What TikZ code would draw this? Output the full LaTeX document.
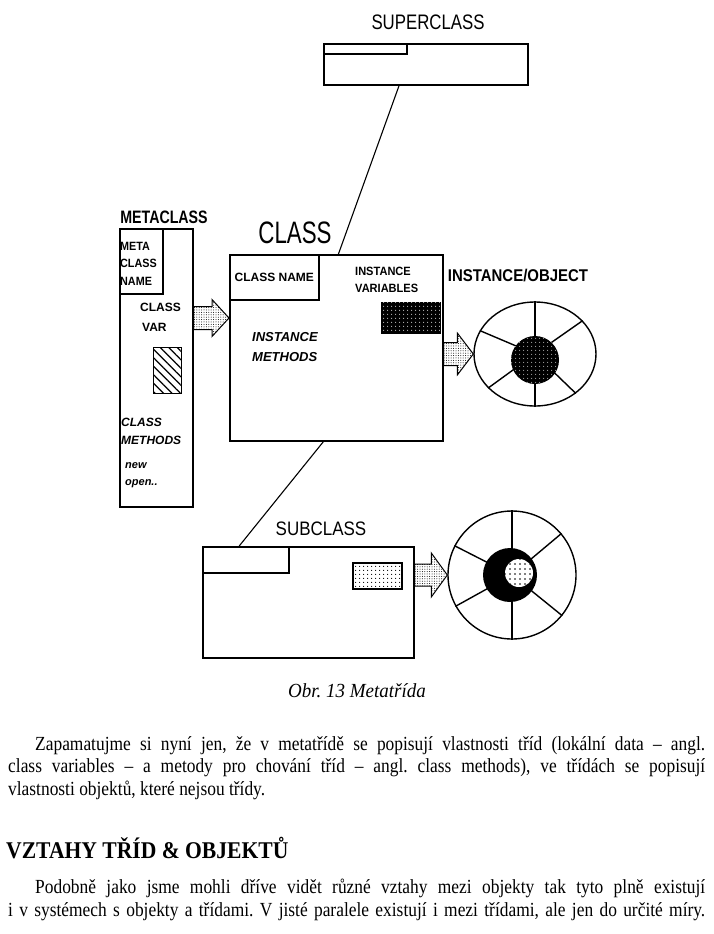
\documentclass[tikz,border=0pt]{standalone}
\usepackage{fontspec}
\setmainfont{Liberation Serif}[FakeStretch=0.87]
\newfontfamily\headfont{Liberation Serif}[FakeStretch=0.9]
\newfontfamily\capfont{Liberation Serif}[FakeStretch=0.95]
\newfontfamily\pixfont{Liberation Sans}
\usetikzlibrary{calc,patterns.meta,shapes.geometric}
\frenchspacing

\newcommand{\sx}[2]{\scalebox{#1}[1]{#2}}
% block arrow from #1 to #2: shaft half, head half, head length
\newcommand{\blockarrow}[5]{%
  \draw[blkarrow] let \p1=(#1), \p2=(#2) in
    (\x1,\y1+#3) -- (\x2-#5,\y1+#3) -- (\x2-#5,\y1+#4) -- (\x2,\y1)
    -- (\x2-#5,\y1-#4) -- (\x2-#5,\y1-#3) -- (\x1,\y1-#3) -- cycle;}

\tikzset{
  box/.style={draw, line width=1.6pt, inner sep=0pt, anchor=north west},
  link/.style={line width=1.1pt},
  wheel/.style={draw, line width=1.4pt, inner sep=0pt},
  spoke/.style={line width=1.4pt},
  lbl/.style={font=\pixfont\fontsize{21}{24}\selectfont, inner sep=0pt},
  pix/.style={font=\pixfont\bfseries\fontsize{12}{18}\selectfont, inner sep=0pt, align=left},
  pixit/.style={font=\pixfont\bfseries\itshape\fontsize{12}{18}\selectfont, inner sep=0pt, align=left},
  blkarrow/.style={line width=1pt, pattern={Dots[distance=2.4pt,radius=0.5pt]}},
  body/.style={font=\fontsize{20}{22.5}\selectfont, text width=697pt, align=justify, inner sep=0pt}
}

\begin{document}
\begin{tikzpicture}[x=1pt,y=-1pt]
  \useasboundingbox (0,0) rectangle (713,934);

  % class boxes
  \node[box, minimum width=204, minimum height=41] (sup) at (323,43) {};
  \node[box, minimum width=73, minimum height=278] (meta) at (119,228) {};
  \node[box, minimum width=213, minimum height=186] (cls) at (229,254) {};
  \node[box, minimum width=211, minimum height=111] (sub) at (202,546) {};

  % name tabs
  \node[box, minimum width=83, minimum height=10] (suptab) at (sup.north west) {};
  \node[box, minimum width=43, minimum height=65] (metaname) at (meta.north west) {};
  \node[box, minimum width=89, minimum height=45] (clsname) at (cls.north west) {};
  \node[box, minimum width=86, minimum height=26] (subtab) at (sub.north west) {};

  % titles
  \node[lbl] (suplbl) at (428,22) {\sx{0.8}{SUPERCLASS}};
  \node[lbl, font=\pixfont\bfseries\fontsize{18}{20}\selectfont] (metalbl) at (164,217) {\sx{0.79}{METACLASS}};
  \node[lbl, font=\pixfont\fontsize{31}{34}\selectfont] (clslbl) at (295,233) {\sx{0.72}{CLASS}};
  \node[lbl, font=\pixfont\bfseries\fontsize{17}{20}\selectfont] (objlbl) at (518,276) {\sx{0.88}{INSTANCE/OBJECT}};
  \node[lbl, font=\pixfont\fontsize{19.5}{22}\selectfont] (sublbl) at (321,529) {\sx{0.87}{SUBCLASS}};

  % texts inside
  \node[pix, anchor=north west] (metanametxt) at (120,242) {\sx{0.9}{META}\\[-0.5pt]\sx{0.9}{CLASS}\\[-0.5pt]\sx{0.9}{NAME}};
  \node[pix, anchor=north west] (clsvar) at (140,303) {CLASS\\[2pt]\,VAR};
  \node[pix] (clsnametxt) at (clsname.center) {CLASS NAME};
  \node[pix, anchor=north west] (instvar) at (355,267) {\sx{0.92}{INSTANCE}\\[-1pt]\sx{0.92}{VARIABLES}};
  \node[pixit, anchor=north west, font=\pixfont\bfseries\itshape\fontsize{13}{18}\selectfont] (instmeth) at (252,332) {INSTANCE\\[2pt]METHODS};
  \node[pixit, anchor=north west] (clsmeth) at (121,418) {CLASS\\METHODS};
  \node[pixit, anchor=north west, font=\pixfont\bfseries\itshape\fontsize{11}{17}\selectfont] (newopen) at (125,462) {new\\open..};

  % variable boxes
  \node[box, minimum width=28, minimum height=46, pattern={Lines[angle=-45,distance=6pt,line width=1.3pt]}] (varhatch) at (153,347) {};
  \node[box, minimum width=58, minimum height=30, fill=black,
        postaction={pattern={Dots[distance=4pt,radius=0.6pt]}, pattern color=white}] (varblack) at (381,302) {};
  \node[box, minimum width=49, minimum height=26, pattern={Dots[distance=4pt,radius=0.7pt]}] (vardots) at (352,562) {};

  % objects
  \node[wheel, ellipse, minimum width=122, minimum height=104] (obj) at (535,354) {};
  \foreach \a in {35,90,157,216,270,316}
    \draw[spoke] (obj.center) -- (obj.\a);
  \node[circle, fill=black, minimum size=48, inner sep=0pt,
        postaction={pattern={Dots[distance=4pt,radius=0.6pt]}, pattern color=white}] (objcore) at (535,360) {};

  \node[wheel, circle, minimum size=128] (subobj) at (512,575) {};
  \foreach \a in {40,90,153,209,270,321}
    \draw[spoke] (subobj.center) -- (subobj.\a);
  \node[circle, fill=black, minimum size=54, inner sep=0pt] (subcore) at (510,575) {};
  \node[circle, fill=white, minimum size=28, inner sep=0pt,
        postaction={pattern={Dots[distance=5pt,radius=0.8pt]}}] (subcorein) at (519,573) {};

  % inheritance lines
  \draw[link] ($(sup.south west)!0.37!(sup.south east)$) -- ($(cls.north west)!0.51!(cls.north east)$);
  \draw[link] ($(cls.south west)!0.44!(cls.south east)$) -- ($(sub.north west)!0.175!(sub.north east)$);

  % arrows
  \coordinate (a1) at (meta.east |- 0,318);
  \blockarrow{a1}{cls.west}{11.5pt}{18.5pt}{17pt}
  \coordinate (a2) at (cls.east |- obj.west);
  \blockarrow{a2}{obj.west}{11.5pt}{21pt}{16pt}
  \coordinate (a3) at (sub.east |- subobj.west);
  \blockarrow{a3}{subobj.west}{11pt}{22pt}{16pt}

  % caption and text
  \node[font=\capfont\itshape\fontsize{20}{22}\selectfont, inner sep=0pt] (caption) at (357,691) {Obr. 13 Metatřída};
  \node[body, anchor=north west] (para1) at (8,736) {\hspace*{27pt}Zapamatujme si nyní jen, že v metatřídě se popisují vlastnosti tříd (lokální data – angl.\linebreak
    class variables – a metody pro chování tříd – angl. class methods), ve třídách se popisují\linebreak
    vlastnosti objektů, které nejsou třídy.};
  \node[anchor=base west, inner sep=0pt, font=\headfont\bfseries\fontsize{24}{26}\selectfont] (heading) at (6,858) {VZTAHY TŘÍD \& OBJEKTŮ};
  \node[body, anchor=north west] (para2) at (8,879) {\hspace*{27pt}Podobně jako jsme mohli dříve vidět různé vztahy mezi objekty tak tyto plně existují\linebreak
    \makebox[\linewidth][s]{i v systémech s objekty a třídami. V jisté paralele existují i mezi třídami, ale jen do určité míry.}};
\end{tikzpicture}
\end{document}
